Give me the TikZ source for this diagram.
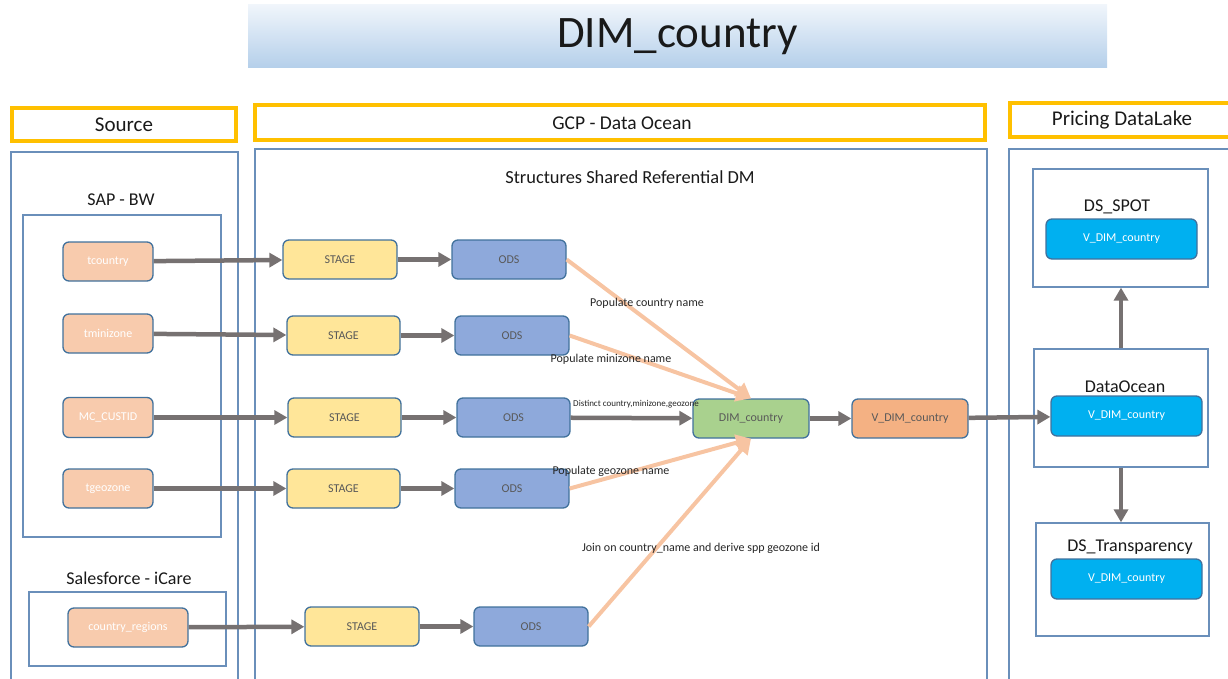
\documentclass[tikz,border=0pt]{standalone}
\usepackage{fontspec}
\setmainfont{Carlito}
\usetikzlibrary{arrows.meta}
\definecolor{hdr}{HTML}{FFC000}
\definecolor{panel}{HTML}{6A8FBA}
\definecolor{nodeline}{HTML}{41719C}
\definecolor{srcfill}{HTML}{F8CBAD}
\definecolor{stagefill}{HTML}{FFE699}
\definecolor{odsfill}{HTML}{8EA9DB}
\definecolor{dimfill}{HTML}{A9D18E}
\definecolor{vdimfill}{HTML}{F4B183}
\definecolor{cyanfill}{HTML}{00B0F0}
\definecolor{arrowgray}{HTML}{767171}
\definecolor{peach}{HTML}{F7C4A2}
\definecolor{txtgray}{HTML}{595959}
\definecolor{titletop}{HTML}{F0F5FB}
\definecolor{titlebot}{HTML}{B4CFEA}
\begin{document}
\begin{tikzpicture}[x=1pt,y=-1pt,
  box/.style={draw=nodeline, line width=1.3pt, rounded corners=6pt, inner sep=0pt,
    minimum width=113pt, minimum height=39pt, font=\fontsize{12}{14}\selectfont, text=txtgray},
  srcbox/.style={box, fill=srcfill, text=white, minimum width=90pt},
  stagebox/.style={box, fill=stagefill, minimum width=113pt},
  odsbox/.style={box, fill=odsfill, minimum width=113pt},
  dimbox/.style={box, fill=dimfill, minimum width=116pt},
  vdimbox/.style={box, fill=vdimfill, minimum width=116pt},
  cyanbox/.style={box, fill=cyanfill, text=white, minimum width=151pt, minimum height=40pt},
  hdrbox/.style={draw=hdr, line width=4pt, inner sep=0pt},
  dsbox/.style={draw=panel, line width=1.3pt, inner sep=0pt},
  panelbox/.style={draw=panel, line width=1.3pt},
  flow/.style={draw=arrowgray, line width=4.5pt, -{Triangle[length=13pt,width=14pt]}},
  feed/.style={draw=peach, line width=4pt, -{Triangle[length=15pt,width=16pt]}},
  lbl/.style={font=\fontsize{12}{14}\selectfont, text=black!85, inner sep=0pt},
  sectitle/.style={font=\fontsize{18}{22}\selectfont, text=black!90, inner sep=0pt},
  hdrtitle/.style={font=\fontsize{21}{25}\selectfont, text=black!90, inner sep=0pt},
]
\useasboundingbox (0,0) rectangle (1228,679);
\clip (0,0) rectangle (1228,679);

% title banner
\node[top color=titletop, bottom color=titlebot, minimum width=859pt, minimum height=63pt,
  inner sep=0pt, font=\fontsize{45}{50}\selectfont, text=black!90] (title) at (677.5,36.5) {DIM\_country};

% headers
\node[hdrbox, minimum width=224pt, minimum height=33pt] (srchdr) at (124,124.5) {};
\node[hdrtitle] (srctxt) at (124,124.5) {Source};
\node[hdrbox, minimum width=730pt, minimum height=35pt] (gcphdr) at (620,122.5) {};
\node[hdrtitle, font=\fontsize{19.5}{23}\selectfont] (gcptxt) at (622,123) {GCP - Data Ocean};
\node[hdrbox, minimum width=240pt, minimum height=34pt] (pdlhdr) at (1130,120) {};
\node[hdrtitle] (pdltxt) at (1122,120.5) {Pricing DataLake};

% panels
\draw[panelbox] (11,152) rectangle (238,700);
\draw[panelbox] (255,149) rectangle (987,700);
\draw[panelbox] (1009,149) rectangle (1250,700);
\draw[panelbox] (23,215) rectangle (221,537);
\draw[panelbox] (29,592) rectangle (226,666);

\node[sectitle] (saptxt) at (121,200) {SAP - BW};
\node[sectitle] (sftxt) at (129,578) {Salesforce - iCare};
\node[sectitle, font=\fontsize{18.4}{22}\selectfont] (structxt) at (630,177) {Structures Shared Referential DM};

% source nodes
\node[srcbox] (tc) at (108,261.5) {tcountry};
\node[srcbox] (tm) at (108,333.5) {tminizone};
\node[srcbox, minimum height=40pt] (mc) at (108,417.5) {MC\_CUSTID};
\node[srcbox] (tg) at (108,488.5) {tgeozone};
\node[srcbox, minimum width=120pt] (cr) at (128,627.5) {country\_regions};

% stage nodes
\node[stagebox, minimum width=114pt] (s1) at (340,259.5) {STAGE};
\node[stagebox] (s2) at (343.5,335.5) {STAGE};
\node[stagebox] (s3) at (344.5,417.5) {STAGE};
\node[stagebox] (s4) at (343.5,488.5) {STAGE};
\node[stagebox, minimum width=114pt] (s5) at (362,626.5) {STAGE};

% ods nodes
\node[odsbox, minimum width=114pt] (o1) at (509,259.5) {ODS};
\node[odsbox, minimum width=114pt] (o2) at (512,335.5) {ODS};
\node[odsbox] (o3) at (513.5,417.5) {ODS};
\node[odsbox, minimum width=114pt] (o4) at (512,488.5) {ODS};
\node[odsbox, minimum width=114pt] (o5) at (531,626.5) {ODS};

\node[dimbox] (dim) at (751,418.5) {DIM\_country};
\node[vdimbox] (vdim) at (910,418.5) {V\_DIM\_country};

% right side
\node[dsbox, minimum width=175pt, minimum height=118pt] (spot) at (1120.5,228) {};
\node[dsbox, minimum width=174pt, minimum height=118pt] (dobox) at (1121,408) {};
\node[dsbox, minimum width=173pt, minimum height=113pt] (trbox) at (1122.5,579.5) {};
\node[sectitle] (spottxt) at (1117,207) {DS\_SPOT};
\node[sectitle] (dotxt) at (1125,387) {DataOcean};
\node[sectitle] (trtxt) at (1130,547) {DS\_Transparency};
\node[cyanbox] (spotv) at (1121.5,239) {V\_DIM\_country};
\node[cyanbox] (dov) at (1126.5,416) {V\_DIM\_country};
\node[cyanbox] (trv) at (1126.5,579) {V\_DIM\_country};

% gray flows
\draw[flow] (tc) -- (s1);
\draw[flow] (tm) -- (s2);
\draw[flow] (mc) -- (s3);
\draw[flow] (tg) -- (s4);
\draw[flow] (cr) -- (s5);
\draw[flow] (s1) -- (o1);
\draw[flow] (s2) -- (o2);
\draw[flow] (s3) -- (o3);
\draw[flow] (s4) -- (o4);
\draw[flow] (s5) -- (o5);
\draw[flow] (o3) -- (dim);
\draw[flow] (dim) -- (vdim);
\draw[flow] (vdim) -- (dov);
\draw[flow] (dobox.north) -- (dobox.north |- spot.south);
\draw[flow] (dobox.south) -- (dobox.south |- trbox.north);

% peach feeds
\draw[feed] (o1.east) -- (dim.north);
\draw[feed] (o2.east) -- (dim.north);
\draw[feed] (o4.east) -- (dim.south);
\draw[feed] (o5.east) -- (dim.south);

% labels
\node[lbl] (l1) at (647,303) {Populate country name};
\node[lbl] (l2) at (611,359) {Populate minizone name};
\node[lbl, font=\fontsize{9}{11}\selectfont] (l3) at (636,404.5) {Distinct country,minizone,geozone};
\node[lbl] (l4) at (611,471) {Populate geozone name};
\node[lbl] (l5) at (701,548) {Join on country\_name and derive spp geozone id};
\end{tikzpicture}
\end{document}
